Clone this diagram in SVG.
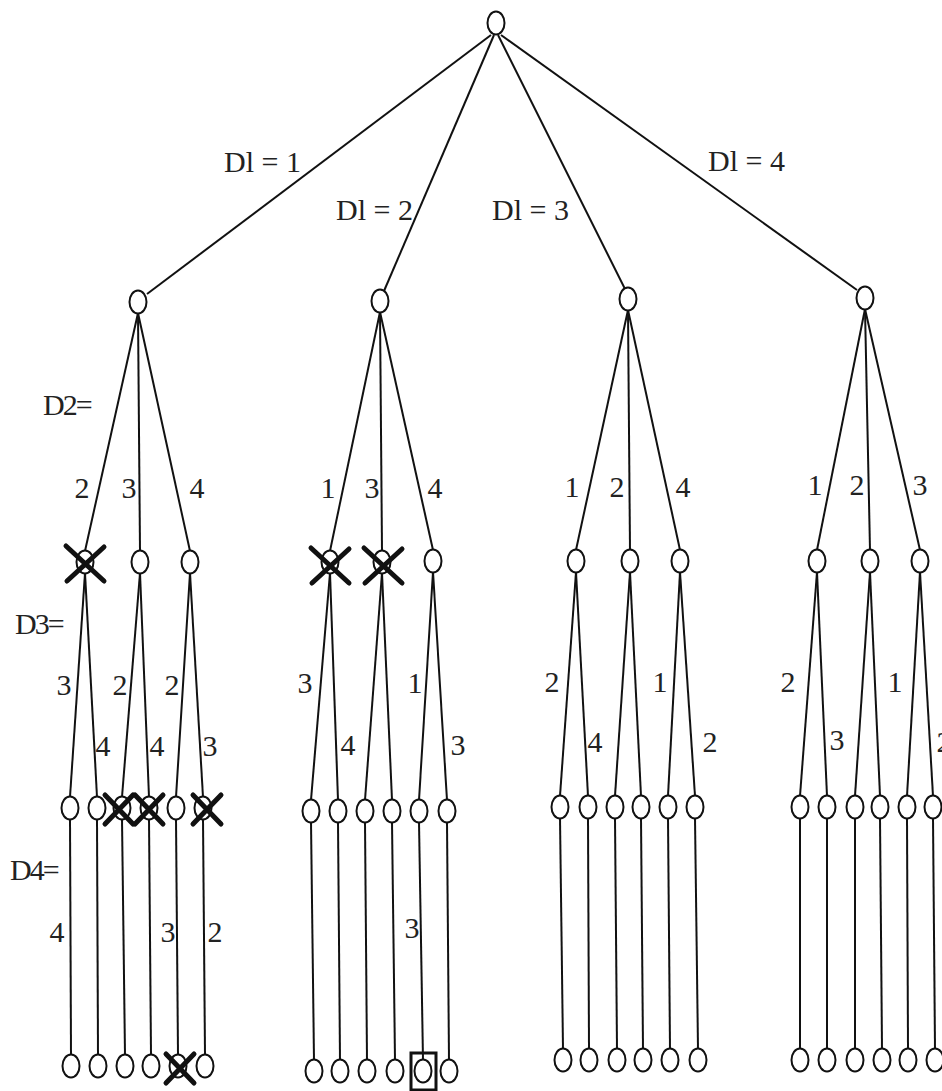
<svg xmlns="http://www.w3.org/2000/svg" width="942" height="1091" viewBox="0 0 942 1091">
  <style>
    .e { stroke: #111; stroke-width: 2; fill: none; }
    .n { fill: #fff; stroke: #111; stroke-width: 2; }
    .x { stroke: #111; stroke-width: 5; stroke-linecap: round; fill: none; }
    .t { font-family: "Liberation Serif", "Times New Roman", serif; font-size: 30px; fill: #222; }
    .c { text-anchor: middle; }
    .box { fill: none; stroke: #111; stroke-width: 3; }
  </style>
  <defs>
    <ellipse id="o" cx="0" cy="0" rx="8.5" ry="11.5"/>
    <path id="xBig" d="M-19,-17 L19,18 M-18,18 L19,-16"/>
    <path id="xSmall" d="M-14,-14 L14,15 M-14,15 L14,-14"/>
  </defs>
  <rect width="942" height="1091" fill="#fff"/>

  <!-- connectors -->
  <g id="connectors" class="e">
    <!-- root to level 1 -->
    <line x1="491" y1="35" x2="147" y2="294"/>
    <line x1="494" y1="35" x2="384" y2="291"/>
    <line x1="498" y1="35" x2="625" y2="289"/>
    <line x1="501" y1="35" x2="857" y2="290"/>

    <!-- level 1 to level 2 -->
    <line x1="138" y1="313" x2="85" y2="551"/>
    <line x1="138" y1="313" x2="140" y2="551"/>
    <line x1="138" y1="313" x2="190" y2="551"/>

    <line x1="380" y1="312" x2="330" y2="551"/>
    <line x1="380" y1="312" x2="382" y2="551"/>
    <line x1="380" y1="312" x2="433" y2="550"/>

    <line x1="628" y1="310" x2="576" y2="550"/>
    <line x1="628" y1="310" x2="630" y2="550"/>
    <line x1="628" y1="310" x2="680" y2="550"/>

    <line x1="865" y1="309" x2="817" y2="550"/>
    <line x1="865" y1="309" x2="870" y2="550"/>
    <line x1="865" y1="309" x2="920" y2="550"/>

    <!-- level 2 to level 3 -->
    <line x1="85" y1="573" x2="70" y2="797"/>
    <line x1="85" y1="573" x2="97" y2="797"/>
    <line x1="140" y1="573" x2="122" y2="797"/>
    <line x1="140" y1="573" x2="149" y2="797"/>
    <line x1="190" y1="573" x2="176" y2="797"/>
    <line x1="190" y1="573" x2="203" y2="797"/>

    <line x1="330" y1="573" x2="311" y2="800"/>
    <line x1="330" y1="573" x2="338" y2="800"/>
    <line x1="382" y1="573" x2="365" y2="800"/>
    <line x1="382" y1="573" x2="392" y2="800"/>
    <line x1="433" y1="572" x2="419" y2="800"/>
    <line x1="433" y1="572" x2="447" y2="800"/>

    <line x1="576" y1="572" x2="560" y2="796"/>
    <line x1="576" y1="572" x2="588" y2="796"/>
    <line x1="630" y1="572" x2="615" y2="796"/>
    <line x1="630" y1="572" x2="641" y2="796"/>
    <line x1="680" y1="572" x2="668" y2="796"/>
    <line x1="680" y1="572" x2="695" y2="796"/>

    <line x1="817" y1="572" x2="800" y2="796"/>
    <line x1="817" y1="572" x2="827" y2="796"/>
    <line x1="870" y1="572" x2="855" y2="796"/>
    <line x1="870" y1="572" x2="880" y2="796"/>
    <line x1="920" y1="572" x2="907" y2="796"/>
    <line x1="920" y1="572" x2="933" y2="796"/>

    <!-- level 3 to level 4 -->
    <line x1="70" y1="819" x2="71" y2="1055"/>
    <line x1="97" y1="819" x2="98" y2="1055"/>
    <line x1="122" y1="819" x2="125" y2="1055"/>
    <line x1="149" y1="819" x2="151" y2="1055"/>
    <line x1="176" y1="819" x2="178" y2="1055"/>
    <line x1="203" y1="819" x2="205" y2="1055"/>

    <line x1="311" y1="822" x2="314" y2="1060"/>
    <line x1="338" y1="822" x2="340" y2="1060"/>
    <line x1="365" y1="822" x2="367" y2="1060"/>
    <line x1="392" y1="822" x2="395" y2="1060"/>
    <line x1="419" y1="822" x2="423" y2="1060"/>
    <line x1="447" y1="822" x2="449" y2="1060"/>

    <line x1="560" y1="818" x2="563" y2="1049"/>
    <line x1="588" y1="818" x2="589" y2="1049"/>
    <line x1="615" y1="818" x2="617" y2="1049"/>
    <line x1="641" y1="818" x2="643" y2="1049"/>
    <line x1="668" y1="818" x2="670" y2="1049"/>
    <line x1="695" y1="818" x2="698" y2="1049"/>

    <line x1="800" y1="818" x2="800" y2="1049"/>
    <line x1="827" y1="818" x2="827" y2="1049"/>
    <line x1="855" y1="818" x2="855" y2="1049"/>
    <line x1="880" y1="818" x2="882" y2="1049"/>
    <line x1="907" y1="818" x2="908" y2="1049"/>
    <line x1="933" y1="818" x2="935" y2="1049"/>
  </g>

  <!-- nodes -->
  <g id="root" class="n"><use href="#o" x="496" y="23"/></g>

  <g id="level1" class="n">
    <g id="a1"><use href="#o" x="138" y="302"/></g>
    <g id="a2"><use href="#o" x="380" y="301"/></g>
    <g id="a3"><use href="#o" x="628" y="299"/></g>
    <g id="a4"><use href="#o" x="865" y="298"/></g>
  </g>

  <g id="level2" class="n">
    <g id="b11"><use href="#o" x="85" y="562"/></g>
    <g id="b12"><use href="#o" x="140" y="562"/></g>
    <g id="b13"><use href="#o" x="190" y="562"/></g>
    <g id="b21"><use href="#o" x="330" y="562"/></g>
    <g id="b22"><use href="#o" x="382" y="562"/></g>
    <g id="b23"><use href="#o" x="433" y="561"/></g>
    <g id="b31"><use href="#o" x="576" y="561"/></g>
    <g id="b32"><use href="#o" x="630" y="561"/></g>
    <g id="b33"><use href="#o" x="680" y="561"/></g>
    <g id="b41"><use href="#o" x="817" y="561"/></g>
    <g id="b42"><use href="#o" x="870" y="561"/></g>
    <g id="b43"><use href="#o" x="920" y="561"/></g>
  </g>

  <g id="level3" class="n">
    <g id="c11"><use href="#o" x="70" y="808"/></g>
    <g id="c12"><use href="#o" x="97" y="808"/></g>
    <g id="c13"><use href="#o" x="122" y="808"/></g>
    <g id="c14"><use href="#o" x="149" y="808"/></g>
    <g id="c15"><use href="#o" x="176" y="808"/></g>
    <g id="c16"><use href="#o" x="203" y="808"/></g>
    <g id="c21"><use href="#o" x="311" y="811"/></g>
    <g id="c22"><use href="#o" x="338" y="811"/></g>
    <g id="c23"><use href="#o" x="365" y="811"/></g>
    <g id="c24"><use href="#o" x="392" y="811"/></g>
    <g id="c25"><use href="#o" x="419" y="811"/></g>
    <g id="c26"><use href="#o" x="447" y="811"/></g>
    <g id="c31"><use href="#o" x="560" y="807"/></g>
    <g id="c32"><use href="#o" x="588" y="807"/></g>
    <g id="c33"><use href="#o" x="615" y="807"/></g>
    <g id="c34"><use href="#o" x="641" y="807"/></g>
    <g id="c35"><use href="#o" x="668" y="807"/></g>
    <g id="c36"><use href="#o" x="695" y="807"/></g>
    <g id="c41"><use href="#o" x="800" y="807"/></g>
    <g id="c42"><use href="#o" x="827" y="807"/></g>
    <g id="c43"><use href="#o" x="855" y="807"/></g>
    <g id="c44"><use href="#o" x="880" y="807"/></g>
    <g id="c45"><use href="#o" x="907" y="807"/></g>
    <g id="c46"><use href="#o" x="933" y="807"/></g>
  </g>

  <g id="level4" class="n">
    <g id="d11"><use href="#o" x="71" y="1066"/></g>
    <g id="d12"><use href="#o" x="98" y="1066"/></g>
    <g id="d13"><use href="#o" x="125" y="1066"/></g>
    <g id="d14"><use href="#o" x="151" y="1066"/></g>
    <g id="d15"><use href="#o" x="178" y="1066"/></g>
    <g id="d16"><use href="#o" x="205" y="1066"/></g>
    <g id="d21"><use href="#o" x="314" y="1071"/></g>
    <g id="d22"><use href="#o" x="340" y="1071"/></g>
    <g id="d23"><use href="#o" x="367" y="1071"/></g>
    <g id="d24"><use href="#o" x="395" y="1071"/></g>
    <g id="d25"><use href="#o" x="423" y="1071"/></g>
    <g id="d26"><use href="#o" x="449" y="1071"/></g>
    <g id="d31"><use href="#o" x="563" y="1060"/></g>
    <g id="d32"><use href="#o" x="589" y="1060"/></g>
    <g id="d33"><use href="#o" x="617" y="1060"/></g>
    <g id="d34"><use href="#o" x="643" y="1060"/></g>
    <g id="d35"><use href="#o" x="670" y="1060"/></g>
    <g id="d36"><use href="#o" x="698" y="1060"/></g>
    <g id="d41"><use href="#o" x="800" y="1060"/></g>
    <g id="d42"><use href="#o" x="827" y="1060"/></g>
    <g id="d43"><use href="#o" x="855" y="1060"/></g>
    <g id="d44"><use href="#o" x="882" y="1060"/></g>
    <g id="d45"><use href="#o" x="908" y="1060"/></g>
    <g id="d46"><use href="#o" x="935" y="1060"/></g>
  </g>

  <!-- pruned branches -->
  <g id="pruned" class="x">
    <use href="#xBig" x="85" y="563"/>
    <use href="#xBig" x="330" y="565"/>
    <use href="#xBig" x="383" y="565"/>
    <use href="#xSmall" x="119" y="809"/>
    <use href="#xSmall" x="149" y="809"/>
    <use href="#xSmall" x="207" y="809"/>
    <use href="#xSmall" x="180" y="1068"/>
  </g>

  <!-- selected solution -->
  <rect id="solution" class="box" x="411" y="1053" width="25" height="37"/>

  <!-- labels -->
  <g id="labels" class="t">
    <text x="224" y="172">Dl = 1</text>
    <text x="336" y="220">Dl = 2</text>
    <text x="492" y="220">Dl = 3</text>
    <text x="708" y="171">Dl = 4</text>

    <text x="43" y="415" letter-spacing="-2">D2=</text>
    <text x="15" y="634" letter-spacing="-2">D3=</text>
    <text x="10" y="880" letter-spacing="-2">D4=</text>

    <g class="c">
      <text x="82" y="498">2</text>
      <text x="129" y="498">3</text>
      <text x="197" y="498">4</text>
      <text x="328" y="498">1</text>
      <text x="372" y="498">3</text>
      <text x="435" y="498">4</text>
      <text x="572" y="497">1</text>
      <text x="617" y="497">2</text>
      <text x="683" y="497">4</text>
      <text x="815" y="495">1</text>
      <text x="857" y="495">2</text>
      <text x="920" y="495">3</text>

      <text x="64" y="695">3</text>
      <text x="103" y="756">4</text>
      <text x="120" y="695">2</text>
      <text x="157" y="756">4</text>
      <text x="172" y="695">2</text>
      <text x="210" y="756">3</text>
      <text x="305" y="693">3</text>
      <text x="348" y="755">4</text>
      <text x="415" y="693">1</text>
      <text x="458" y="755">3</text>
      <text x="552" y="692">2</text>
      <text x="595" y="752">4</text>
      <text x="660" y="692">1</text>
      <text x="710" y="752">2</text>
      <text x="788" y="692">2</text>
      <text x="837" y="750">3</text>
      <text x="895" y="692">1</text>
      <text x="944" y="752">2</text>

      <text x="57" y="942">4</text>
      <text x="168" y="942">3</text>
      <text x="215" y="942">2</text>
      <text x="412" y="938">3</text>
    </g>
  </g>
</svg>
